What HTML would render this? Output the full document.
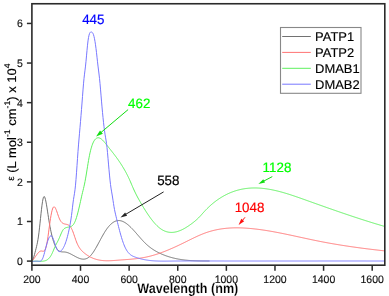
<!DOCTYPE html>
<html><head><meta charset="utf-8"><style>
html,body{margin:0;padding:0;background:#fff;}
body{width:389px;height:296px;overflow:hidden;}
svg{display:block;}
text{font-family:"Liberation Sans",sans-serif;text-rendering:geometricPrecision;}
svg{will-change:transform;}
</style></head><body>
<svg width="389" height="296" viewBox="0 0 389 296">
<rect width="389" height="296" fill="#fff"/>
<defs><clipPath id="cp"><rect x="31.9" y="3.75" width="352.90000000000003" height="261.45"/></clipPath></defs>
<g clip-path="url(#cp)" fill="none" stroke-width="1.0" stroke-linejoin="round">
<path d="M32.00,261.04 L32.50,260.31 L33.00,259.23 L33.50,257.85 L34.00,256.24 L34.50,254.46 L35.00,252.58 L35.50,250.65 L36.00,248.72 L36.50,246.73 L37.00,244.58 L37.50,242.16 L38.00,239.36 L38.50,236.06 L39.00,232.19 L39.50,227.85 L40.00,223.21 L40.50,218.44 L41.00,213.73 L41.50,209.25 L42.00,205.18 L42.50,201.70 L43.00,198.98 L43.50,197.20 L44.00,196.49 L44.50,196.76 L45.00,197.87 L45.50,199.67 L46.00,202.04 L46.50,204.83 L47.00,207.89 L47.50,211.13 L48.00,214.43 L48.50,217.71 L49.00,220.88 L49.50,223.86 L50.00,226.65 L50.50,229.26 L51.00,231.69 L51.50,233.95 L52.00,236.04 L52.50,237.97 L53.00,239.75 L53.50,241.37 L54.00,242.85 L54.50,244.19 L55.00,245.40 L55.50,246.47 L56.00,247.42 L56.50,248.26 L57.00,248.98 L57.50,249.60 L58.00,250.12 L58.50,250.56 L59.00,250.92 L59.50,251.21 L60.00,251.44 L60.50,251.61 L61.00,251.73 L61.50,251.82 L62.00,251.88 L62.50,251.91 L63.00,251.93 L63.50,251.95 L64.00,251.97 L64.50,251.99 L65.00,252.04 L65.50,252.11 L66.00,252.20 L66.50,252.32 L67.00,252.45 L67.50,252.61 L68.00,252.79 L68.50,252.98 L69.00,253.19 L69.50,253.41 L70.00,253.65 L70.50,253.89 L71.00,254.14 L71.50,254.40 L72.00,254.67 L72.50,254.94 L73.00,255.22 L73.50,255.49 L74.00,255.77 L74.50,256.04 L75.00,256.32 L75.50,256.59 L76.00,256.85 L76.50,257.10 L77.00,257.35 L77.50,257.59 L78.00,257.81 L78.50,258.03 L79.00,258.23 L79.50,258.41 L80.00,258.58 L80.50,258.73 L81.00,258.86 L81.50,258.97 L82.00,259.06 L82.50,259.12 L83.00,259.16 L83.50,259.17 L84.00,259.15 L84.50,259.10 L85.00,259.03 L85.50,258.92 L86.00,258.77 L86.50,258.59 L87.00,258.38 L87.50,258.13 L88.00,257.83 L88.50,257.50 L89.00,257.12 L89.50,256.71 L90.00,256.24 L90.50,255.73 L91.00,255.18 L91.50,254.58 L92.00,253.95 L92.50,253.28 L93.00,252.57 L93.50,251.83 L94.00,251.07 L94.50,250.27 L95.00,249.45 L95.50,248.61 L96.00,247.75 L96.50,246.87 L97.00,245.98 L97.50,245.07 L98.00,244.16 L98.50,243.23 L99.00,242.31 L99.50,241.37 L100.00,240.44 L100.50,239.51 L101.00,238.58 L101.50,237.66 L102.00,236.75 L102.50,235.85 L103.00,234.97 L103.50,234.10 L104.00,233.25 L104.50,232.42 L105.00,231.62 L105.50,230.84 L106.00,230.09 L106.50,229.36 L107.00,228.66 L107.50,227.99 L108.00,227.35 L108.50,226.74 L109.00,226.15 L109.50,225.59 L110.00,225.06 L110.50,224.56 L111.00,224.09 L111.50,223.65 L112.00,223.23 L112.50,222.84 L113.00,222.49 L113.50,222.16 L114.00,221.86 L114.50,221.60 L115.00,221.36 L115.50,221.15 L116.00,220.97 L116.50,220.82 L117.00,220.71 L117.50,220.62 L118.00,220.56 L118.50,220.54 L119.00,220.54 L119.50,220.57 L120.00,220.63 L120.50,220.72 L121.00,220.83 L121.50,220.97 L122.00,221.14 L122.50,221.32 L123.00,221.53 L123.50,221.77 L124.00,222.03 L124.50,222.30 L125.00,222.60 L125.50,222.92 L126.00,223.26 L126.50,223.62 L127.00,223.99 L127.50,224.38 L128.00,224.79 L128.50,225.21 L129.00,225.65 L129.50,226.11 L130.00,226.57 L130.50,227.05 L131.00,227.54 L131.50,228.05 L132.00,228.56 L132.50,229.09 L133.00,229.62 L133.50,230.16 L134.00,230.71 L134.50,231.26 L135.00,231.82 L135.50,232.39 L136.00,232.95 L136.50,233.53 L137.00,234.10 L137.50,234.68 L138.00,235.25 L138.50,235.83 L139.00,236.40 L139.50,236.98 L140.00,237.55 L140.50,238.12 L141.00,238.68 L141.50,239.24 L142.00,239.79 L142.50,240.34 L143.00,240.88 L143.50,241.41 L144.00,241.93 L144.50,242.44 L145.00,242.94 L145.50,243.43 L146.00,243.91 L146.50,244.37 L147.00,244.83 L147.50,245.27 L148.00,245.70 L148.50,246.12 L149.00,246.53 L149.50,246.93 L150.00,247.32 L150.50,247.69 L151.00,248.06 L151.50,248.42 L152.00,248.77 L152.50,249.11 L153.00,249.45 L153.50,249.77 L154.00,250.09 L154.50,250.40 L155.00,250.70 L155.50,250.99 L156.00,251.27 L156.50,251.55 L157.00,251.82 L157.50,252.09 L158.00,252.35 L158.50,252.60 L159.00,252.85 L159.50,253.09 L160.00,253.32 L160.50,253.55 L161.00,253.78 L161.50,254.00 L162.00,254.22 L162.50,254.43 L163.00,254.64 L163.50,254.84 L164.00,255.04 L164.50,255.23 L165.00,255.42 L165.50,255.61 L166.00,255.79 L166.50,255.97 L167.00,256.14 L167.50,256.31 L168.00,256.48 L168.50,256.64 L169.00,256.80 L169.50,256.95 L170.00,257.10 L170.50,257.24 L171.00,257.39 L171.50,257.52 L172.00,257.66 L172.50,257.79 L173.00,257.92 L173.50,258.04 L174.00,258.16 L174.50,258.28 L175.00,258.40 L175.50,258.51 L176.00,258.61 L176.50,258.72 L177.00,258.82 L177.50,258.92 L178.00,259.01 L178.50,259.11 L179.00,259.19 L179.50,259.28 L180.00,259.36 L180.50,259.45 L181.00,259.52 L181.50,259.60 L182.00,259.67 L182.50,259.74 L183.00,259.81 L183.50,259.87 L184.00,259.94 L184.50,260.00 L185.00,260.05 L185.50,260.11 L186.00,260.16 L186.50,260.21 L187.00,260.26 L187.50,260.31 L188.00,260.35 L188.50,260.40 L189.00,260.44 L189.50,260.48 L190.00,260.51 L190.50,260.55 L191.00,260.58 L191.50,260.61 L192.00,260.64 L192.50,260.67 L193.00,260.70 L193.50,260.72 L194.00,260.74 L194.50,260.77 L195.00,260.79 L195.50,260.81 L196.00,260.83 L196.50,260.84 L197.00,260.86 L197.50,260.87 L198.00,260.89 L198.50,260.90 L199.00,260.91 L199.50,260.92 L200.00,260.93 L200.50,260.94 L201.00,260.95 L201.50,260.95 L202.00,260.96 L202.50,260.97 L203.00,260.97 L203.50,260.97 L204.00,260.98 L204.50,260.98 L205.00,260.99 L205.50,260.99 L206.00,260.99 L206.50,260.99 L207.00,261.00 L207.50,261.00 L208.00,261.00 L208.50,261.00 L209.00,261.00 L209.50,261.00" stroke="#727272"/>
<path d="M32.00,261.03 L32.50,260.51 L33.00,259.92 L33.50,259.29 L34.00,258.62 L34.50,257.91 L35.00,257.19 L35.50,256.46 L36.00,255.74 L36.50,255.02 L37.00,254.34 L37.50,253.68 L38.00,253.08 L38.50,252.53 L39.00,252.04 L39.50,251.64 L40.00,251.32 L40.50,251.11 L41.00,251.00 L41.50,251.01 L42.00,251.10 L42.50,251.20 L43.00,251.25 L43.50,251.21 L44.00,250.99 L44.50,250.56 L45.00,249.83 L45.50,248.77 L46.00,247.29 L46.50,245.36 L47.00,242.90 L47.50,239.91 L48.00,236.52 L48.50,232.87 L49.00,229.10 L49.50,225.34 L50.00,221.75 L50.50,218.45 L51.00,215.49 L51.50,212.90 L52.00,210.72 L52.50,208.99 L53.00,207.74 L53.50,207.01 L54.00,206.75 L54.50,206.92 L55.00,207.45 L55.50,208.28 L56.00,209.36 L56.50,210.63 L57.00,212.03 L57.50,213.50 L58.00,214.98 L58.50,216.42 L59.00,217.75 L59.50,218.93 L60.00,219.95 L60.50,220.82 L61.00,221.55 L61.50,222.15 L62.00,222.65 L62.50,223.05 L63.00,223.37 L63.50,223.61 L64.00,223.80 L64.50,223.95 L65.00,224.06 L65.50,224.16 L66.00,224.25 L66.50,224.35 L67.00,224.47 L67.50,224.62 L68.00,224.83 L68.50,225.09 L69.00,225.42 L69.50,225.83 L70.00,226.34 L70.50,226.95 L71.00,227.68 L71.50,228.54 L72.00,229.54 L72.50,230.68 L73.00,231.95 L73.50,233.33 L74.00,234.77 L74.50,236.25 L75.00,237.73 L75.50,239.20 L76.00,240.61 L76.50,241.93 L77.00,243.16 L77.50,244.28 L78.00,245.31 L78.50,246.25 L79.00,247.11 L79.50,247.90 L80.00,248.62 L80.50,249.28 L81.00,249.89 L81.50,250.45 L82.00,250.97 L82.50,251.45 L83.00,251.91 L83.50,252.35 L84.00,252.77 L84.50,253.18 L85.00,253.58 L85.50,253.96 L86.00,254.33 L86.50,254.69 L87.00,255.03 L87.50,255.36 L88.00,255.68 L88.50,255.99 L89.00,256.28 L89.50,256.57 L90.00,256.84 L90.50,257.10 L91.00,257.35 L91.50,257.59 L92.00,257.82 L92.50,258.04 L93.00,258.24 L93.50,258.44 L94.00,258.63 L94.50,258.81 L95.00,258.98 L95.50,259.14 L96.00,259.29 L96.50,259.43 L97.00,259.56 L97.50,259.69 L98.00,259.81 L98.50,259.91 L99.00,260.02 L99.50,260.11 L100.00,260.20 L100.50,260.28 L101.00,260.35 L101.50,260.41 L102.00,260.47 L102.50,260.53 L103.00,260.57 L103.50,260.62 L104.00,260.65 L104.50,260.68 L105.00,260.71 L105.50,260.73 L106.00,260.74 L106.50,260.75 L107.00,260.76 L107.50,260.76 L108.00,260.76 L108.50,260.75 L109.00,260.74 L109.50,260.73 L110.00,260.71 L110.50,260.69 L111.00,260.67 L111.50,260.65 L112.00,260.62 L112.50,260.59 L113.00,260.56 L113.50,260.53 L114.00,260.49 L114.50,260.46 L115.00,260.42 L115.50,260.38 L116.00,260.34 L116.50,260.30 L117.00,260.26 L117.50,260.22 L118.00,260.19 L118.50,260.15 L119.00,260.11 L119.50,260.07 L120.00,260.03 L120.50,260.00 L121.00,259.96 L121.50,259.92 L122.00,259.89 L122.50,259.85 L123.00,259.82 L123.50,259.78 L124.00,259.74 L124.50,259.71 L125.00,259.67 L125.50,259.64 L126.00,259.60 L126.50,259.56 L127.00,259.53 L127.50,259.49 L128.00,259.45 L128.50,259.41 L129.00,259.37 L129.50,259.33 L130.00,259.29 L130.50,259.25 L131.00,259.20 L131.50,259.16 L132.00,259.11 L132.50,259.07 L133.00,259.02 L133.50,258.97 L134.00,258.92 L134.50,258.87 L135.00,258.81 L135.50,258.76 L136.00,258.70 L136.50,258.64 L137.00,258.58 L137.50,258.52 L138.00,258.45 L138.50,258.39 L139.00,258.32 L139.50,258.25 L140.00,258.18 L140.50,258.10 L141.00,258.03 L141.50,257.95 L142.00,257.86 L142.50,257.78 L143.00,257.69 L143.50,257.60 L144.00,257.51 L144.50,257.42 L145.00,257.32 L145.50,257.22 L146.00,257.11 L146.50,257.01 L147.00,256.90 L147.50,256.78 L148.00,256.67 L148.50,256.55 L149.00,256.43 L149.50,256.30 L150.00,256.18 L150.50,256.05 L151.00,255.92 L151.50,255.78 L152.00,255.64 L152.50,255.50 L153.00,255.36 L153.50,255.22 L154.00,255.07 L154.50,254.92 L155.00,254.77 L155.50,254.61 L156.00,254.45 L156.50,254.29 L157.00,254.13 L157.50,253.97 L158.00,253.80 L158.50,253.63 L159.00,253.46 L159.50,253.29 L160.00,253.11 L160.50,252.93 L161.00,252.75 L161.50,252.57 L162.00,252.39 L162.50,252.20 L163.00,252.01 L163.50,251.83 L164.00,251.63 L164.50,251.44 L165.00,251.24 L165.50,251.05 L166.00,250.85 L166.50,250.65 L167.00,250.44 L167.50,250.24 L168.00,250.03 L168.50,249.83 L169.00,249.62 L169.50,249.40 L170.00,249.19 L170.50,248.98 L171.00,248.76 L171.50,248.54 L172.00,248.33 L172.50,248.11 L173.00,247.88 L173.50,247.66 L174.00,247.44 L174.50,247.21 L175.00,246.98 L175.50,246.76 L176.00,246.53 L176.50,246.30 L177.00,246.06 L177.50,245.83 L178.00,245.60 L178.50,245.36 L179.00,245.13 L179.50,244.89 L180.00,244.65 L180.50,244.41 L181.00,244.17 L181.50,243.93 L182.00,243.69 L182.50,243.44 L183.00,243.20 L183.50,242.96 L184.00,242.71 L184.50,242.46 L185.00,242.22 L185.50,241.97 L186.00,241.72 L186.50,241.47 L187.00,241.23 L187.50,240.98 L188.00,240.73 L188.50,240.48 L189.00,240.23 L189.50,239.99 L190.00,239.74 L190.50,239.49 L191.00,239.24 L191.50,239.00 L192.00,238.76 L192.50,238.51 L193.00,238.27 L193.50,238.03 L194.00,237.79 L194.50,237.55 L195.00,237.31 L195.50,237.08 L196.00,236.84 L196.50,236.61 L197.00,236.38 L197.50,236.15 L198.00,235.93 L198.50,235.70 L199.00,235.48 L199.50,235.26 L200.00,235.05 L200.50,234.83 L201.00,234.62 L201.50,234.41 L202.00,234.21 L202.50,234.01 L203.00,233.81 L203.50,233.61 L204.00,233.42 L204.50,233.23 L205.00,233.05 L205.50,232.86 L206.00,232.69 L206.50,232.51 L207.00,232.34 L207.50,232.18 L208.00,232.01 L208.50,231.85 L209.00,231.70 L209.50,231.55 L210.00,231.40 L210.50,231.25 L211.00,231.11 L211.50,230.97 L212.00,230.84 L212.50,230.71 L213.00,230.58 L213.50,230.45 L214.00,230.33 L214.50,230.21 L215.00,230.10 L215.50,229.99 L216.00,229.88 L216.50,229.77 L217.00,229.67 L217.50,229.57 L218.00,229.47 L218.50,229.38 L219.00,229.29 L219.50,229.20 L220.00,229.12 L220.50,229.04 L221.00,228.96 L221.50,228.88 L222.00,228.81 L222.50,228.74 L223.00,228.67 L223.50,228.61 L224.00,228.55 L224.50,228.49 L225.00,228.43 L225.50,228.38 L226.00,228.33 L226.50,228.28 L227.00,228.23 L227.50,228.19 L228.00,228.15 L228.50,228.11 L229.00,228.08 L229.50,228.04 L230.00,228.01 L230.50,227.99 L231.00,227.96 L231.50,227.94 L232.00,227.91 L232.50,227.90 L233.00,227.88 L233.50,227.86 L234.00,227.85 L234.50,227.84 L235.00,227.83 L235.50,227.83 L236.00,227.82 L236.50,227.82 L237.00,227.82 L237.50,227.82 L238.00,227.83 L238.50,227.84 L239.00,227.84 L239.50,227.85 L240.00,227.87 L240.50,227.88 L241.00,227.89 L241.50,227.91 L242.00,227.93 L242.50,227.95 L243.00,227.98 L243.50,228.00 L244.00,228.03 L244.50,228.05 L245.00,228.08 L245.50,228.11 L246.00,228.15 L246.50,228.18 L247.00,228.21 L247.50,228.25 L248.00,228.29 L248.50,228.33 L249.00,228.37 L249.50,228.41 L250.00,228.46 L250.50,228.50 L251.00,228.55 L251.50,228.59 L252.00,228.64 L252.50,228.69 L253.00,228.74 L253.50,228.80 L254.00,228.85 L254.50,228.91 L255.00,228.96 L255.50,229.02 L256.00,229.08 L256.50,229.14 L257.00,229.20 L257.50,229.26 L258.00,229.32 L258.50,229.39 L259.00,229.45 L259.50,229.52 L260.00,229.58 L260.50,229.65 L261.00,229.72 L261.50,229.79 L262.00,229.86 L262.50,229.93 L263.00,230.01 L263.50,230.08 L264.00,230.16 L264.50,230.23 L265.00,230.31 L265.50,230.39 L266.00,230.47 L266.50,230.55 L267.00,230.63 L267.50,230.71 L268.00,230.79 L268.50,230.87 L269.00,230.96 L269.50,231.04 L270.00,231.13 L270.50,231.21 L271.00,231.30 L271.50,231.39 L272.00,231.47 L272.50,231.56 L273.00,231.65 L273.50,231.74 L274.00,231.83 L274.50,231.93 L275.00,232.02 L275.50,232.11 L276.00,232.21 L276.50,232.30 L277.00,232.39 L277.50,232.49 L278.00,232.59 L278.50,232.68 L279.00,232.78 L279.50,232.88 L280.00,232.98 L280.50,233.08 L281.00,233.17 L281.50,233.27 L282.00,233.37 L282.50,233.48 L283.00,233.58 L283.50,233.68 L284.00,233.78 L284.50,233.88 L285.00,233.99 L285.50,234.09 L286.00,234.19 L286.50,234.30 L287.00,234.40 L287.50,234.51 L288.00,234.61 L288.50,234.72 L289.00,234.82 L289.50,234.93 L290.00,235.03 L290.50,235.14 L291.00,235.25 L291.50,235.35 L292.00,235.46 L292.50,235.57 L293.00,235.67 L293.50,235.78 L294.00,235.89 L294.50,236.00 L295.00,236.11 L295.50,236.21 L296.00,236.32 L296.50,236.43 L297.00,236.54 L297.50,236.65 L298.00,236.76 L298.50,236.87 L299.00,236.97 L299.50,237.08 L300.00,237.19 L300.50,237.30 L301.00,237.41 L301.50,237.52 L302.00,237.63 L302.50,237.73 L303.00,237.84 L303.50,237.95 L304.00,238.06 L304.50,238.17 L305.00,238.28 L305.50,238.38 L306.00,238.49 L306.50,238.60 L307.00,238.71 L307.50,238.81 L308.00,238.92 L308.50,239.03 L309.00,239.14 L309.50,239.24 L310.00,239.35 L310.50,239.45 L311.00,239.56 L311.50,239.67 L312.00,239.77 L312.50,239.87 L313.00,239.98 L313.50,240.08 L314.00,240.19 L314.50,240.29 L315.00,240.39 L315.50,240.50 L316.00,240.60 L316.50,240.70 L317.00,240.80 L317.50,240.90 L318.00,241.00 L318.50,241.10 L319.00,241.20 L319.50,241.30 L320.00,241.40 L320.50,241.50 L321.00,241.60 L321.50,241.69 L322.00,241.79 L322.50,241.88 L323.00,241.98 L323.50,242.08 L324.00,242.17 L324.50,242.26 L325.00,242.36 L325.50,242.45 L326.00,242.54 L326.50,242.64 L327.00,242.73 L327.50,242.82 L328.00,242.91 L328.50,243.00 L329.00,243.09 L329.50,243.18 L330.00,243.27 L330.50,243.36 L331.00,243.45 L331.50,243.54 L332.00,243.62 L332.50,243.71 L333.00,243.80 L333.50,243.88 L334.00,243.97 L334.50,244.06 L335.00,244.14 L335.50,244.23 L336.00,244.31 L336.50,244.39 L337.00,244.48 L337.50,244.56 L338.00,244.64 L338.50,244.72 L339.00,244.81 L339.50,244.89 L340.00,244.97 L340.50,245.05 L341.00,245.13 L341.50,245.21 L342.00,245.29 L342.50,245.37 L343.00,245.45 L343.50,245.52 L344.00,245.60 L344.50,245.68 L345.00,245.76 L345.50,245.83 L346.00,245.91 L346.50,245.99 L347.00,246.06 L347.50,246.14 L348.00,246.21 L348.50,246.29 L349.00,246.36 L349.50,246.43 L350.00,246.51 L350.50,246.58 L351.00,246.65 L351.50,246.73 L352.00,246.80 L352.50,246.87 L353.00,246.94 L353.50,247.01 L354.00,247.08 L354.50,247.15 L355.00,247.22 L355.50,247.29 L356.00,247.36 L356.50,247.43 L357.00,247.50 L357.50,247.57 L358.00,247.64 L358.50,247.71 L359.00,247.77 L359.50,247.84 L360.00,247.91 L360.50,247.97 L361.00,248.04 L361.50,248.11 L362.00,248.17 L362.50,248.24 L363.00,248.30 L363.50,248.37 L364.00,248.43 L364.50,248.49 L365.00,248.56 L365.50,248.62 L366.00,248.69 L366.50,248.75 L367.00,248.81 L367.50,248.87 L368.00,248.94 L368.50,249.00 L369.00,249.06 L369.50,249.12 L370.00,249.18 L370.50,249.24 L371.00,249.30 L371.50,249.36 L372.00,249.42 L372.50,249.48 L373.00,249.54 L373.50,249.60 L374.00,249.66 L374.50,249.72 L375.00,249.78 L375.50,249.84 L376.00,249.90 L376.50,249.95 L377.00,250.01 L377.50,250.07 L378.00,250.13 L378.50,250.18 L379.00,250.24 L379.50,250.30 L380.00,250.35 L380.50,250.41 L381.00,250.46 L381.50,250.52 L382.00,250.57 L382.50,250.63 L383.00,250.68 L383.50,250.74 L384.00,250.79 L384.50,250.85" stroke="#ff7474"/>
<path d="M32.00,261.29 L32.50,261.25 L33.00,261.22 L33.50,261.20 L34.00,261.19 L34.50,261.19 L35.00,261.19 L35.50,261.20 L36.00,261.21 L36.50,261.23 L37.00,261.24 L37.50,261.26 L38.00,261.28 L38.50,261.29 L39.00,261.30 L39.50,261.30 L40.00,261.30 L40.50,261.30 L41.00,261.30 L41.50,261.29 L42.00,261.26 L42.50,261.22 L43.00,261.17 L43.50,261.11 L44.00,261.03 L44.50,260.93 L45.00,260.80 L45.50,260.65 L46.00,260.46 L46.50,260.22 L47.00,259.95 L47.50,259.62 L48.00,259.24 L48.50,258.80 L49.00,258.29 L49.50,257.72 L50.00,257.07 L50.50,256.34 L51.00,255.53 L51.50,254.63 L52.00,253.64 L52.50,252.56 L53.00,251.40 L53.50,250.21 L54.00,249.01 L54.50,247.82 L55.00,246.68 L55.50,245.61 L56.00,244.61 L56.50,243.65 L57.00,242.71 L57.50,241.77 L58.00,240.79 L58.50,239.76 L59.00,238.65 L59.50,237.49 L60.00,236.30 L60.50,235.10 L61.00,233.92 L61.50,232.79 L62.00,231.73 L62.50,230.78 L63.00,229.95 L63.50,229.27 L64.00,228.77 L64.50,228.42 L65.00,228.12 L65.50,227.88 L66.00,227.69 L66.50,227.53 L67.00,227.39 L67.50,227.29 L68.00,227.19 L68.50,227.11 L69.00,227.03 L69.50,226.94 L70.00,226.84 L70.50,226.70 L71.00,226.51 L71.50,226.26 L72.00,225.93 L72.50,225.52 L73.00,225.00 L73.50,224.37 L74.00,223.60 L74.50,222.68 L75.00,221.61 L75.50,220.38 L76.00,218.99 L76.50,217.46 L77.00,215.80 L77.50,214.01 L78.00,212.12 L78.50,210.13 L79.00,208.06 L79.50,205.91 L80.00,203.69 L80.50,201.42 L81.00,199.13 L81.50,196.86 L82.00,194.67 L82.50,192.58 L83.00,190.55 L83.50,188.50 L84.00,186.36 L84.50,184.07 L85.00,181.58 L85.50,178.90 L86.00,176.04 L86.50,173.02 L87.00,169.89 L87.50,166.74 L88.00,163.63 L88.50,160.64 L89.00,157.84 L89.50,155.27 L90.00,152.92 L90.50,150.79 L91.00,148.85 L91.50,147.11 L92.00,145.56 L92.50,144.17 L93.00,142.95 L93.50,141.89 L94.00,140.97 L94.50,140.19 L95.00,139.54 L95.50,139.00 L96.00,138.57 L96.50,138.24 L97.00,137.99 L97.50,137.84 L98.00,137.77 L98.50,137.77 L99.00,137.85 L99.50,138.00 L100.00,138.21 L100.50,138.48 L101.00,138.80 L101.50,139.18 L102.00,139.60 L102.50,140.06 L103.00,140.56 L103.50,141.10 L104.00,141.66 L104.50,142.24 L105.00,142.84 L105.50,143.46 L106.00,144.08 L106.50,144.71 L107.00,145.34 L107.50,145.97 L108.00,146.60 L108.50,147.23 L109.00,147.85 L109.50,148.48 L110.00,149.11 L110.50,149.74 L111.00,150.37 L111.50,151.00 L112.00,151.63 L112.50,152.27 L113.00,152.91 L113.50,153.56 L114.00,154.21 L114.50,154.86 L115.00,155.52 L115.50,156.19 L116.00,156.86 L116.50,157.54 L117.00,158.23 L117.50,158.93 L118.00,159.63 L118.50,160.35 L119.00,161.07 L119.50,161.81 L120.00,162.55 L120.50,163.31 L121.00,164.08 L121.50,164.86 L122.00,165.65 L122.50,166.46 L123.00,167.28 L123.50,168.11 L124.00,168.96 L124.50,169.83 L125.00,170.71 L125.50,171.61 L126.00,172.53 L126.50,173.47 L127.00,174.44 L127.50,175.42 L128.00,176.43 L128.50,177.47 L129.00,178.53 L129.50,179.62 L130.00,180.74 L130.50,181.88 L131.00,183.05 L131.50,184.24 L132.00,185.42 L132.50,186.60 L133.00,187.76 L133.50,188.89 L134.00,189.99 L134.50,191.07 L135.00,192.12 L135.50,193.15 L136.00,194.16 L136.50,195.14 L137.00,196.10 L137.50,197.05 L138.00,197.98 L138.50,198.89 L139.00,199.79 L139.50,200.68 L140.00,201.56 L140.50,202.42 L141.00,203.28 L141.50,204.13 L142.00,204.98 L142.50,205.82 L143.00,206.65 L143.50,207.47 L144.00,208.29 L144.50,209.10 L145.00,209.90 L145.50,210.69 L146.00,211.47 L146.50,212.25 L147.00,213.01 L147.50,213.76 L148.00,214.50 L148.50,215.24 L149.00,215.96 L149.50,216.67 L150.00,217.36 L150.50,218.05 L151.00,218.72 L151.50,219.38 L152.00,220.03 L152.50,220.66 L153.00,221.28 L153.50,221.89 L154.00,222.48 L154.50,223.05 L155.00,223.61 L155.50,224.16 L156.00,224.68 L156.50,225.20 L157.00,225.69 L157.50,226.17 L158.00,226.63 L158.50,227.08 L159.00,227.50 L159.50,227.91 L160.00,228.30 L160.50,228.67 L161.00,229.02 L161.50,229.35 L162.00,229.66 L162.50,229.96 L163.00,230.23 L163.50,230.49 L164.00,230.73 L164.50,230.96 L165.00,231.16 L165.50,231.35 L166.00,231.53 L166.50,231.69 L167.00,231.83 L167.50,231.95 L168.00,232.06 L168.50,232.16 L169.00,232.23 L169.50,232.30 L170.00,232.35 L170.50,232.38 L171.00,232.40 L171.50,232.41 L172.00,232.40 L172.50,232.38 L173.00,232.34 L173.50,232.30 L174.00,232.24 L174.50,232.16 L175.00,232.08 L175.50,231.98 L176.00,231.87 L176.50,231.75 L177.00,231.61 L177.50,231.47 L178.00,231.31 L178.50,231.15 L179.00,230.97 L179.50,230.78 L180.00,230.59 L180.50,230.38 L181.00,230.16 L181.50,229.94 L182.00,229.70 L182.50,229.46 L183.00,229.20 L183.50,228.94 L184.00,228.67 L184.50,228.40 L185.00,228.11 L185.50,227.82 L186.00,227.52 L186.50,227.21 L187.00,226.90 L187.50,226.58 L188.00,226.25 L188.50,225.92 L189.00,225.58 L189.50,225.23 L190.00,224.88 L190.50,224.53 L191.00,224.17 L191.50,223.80 L192.00,223.43 L192.50,223.05 L193.00,222.67 L193.50,222.28 L194.00,221.88 L194.50,221.47 L195.00,221.06 L195.50,220.63 L196.00,220.20 L196.50,219.76 L197.00,219.30 L197.50,218.84 L198.00,218.36 L198.50,217.88 L199.00,217.38 L199.50,216.86 L200.00,216.34 L200.50,215.80 L201.00,215.25 L201.50,214.69 L202.00,214.13 L202.50,213.56 L203.00,213.00 L203.50,212.44 L204.00,211.88 L204.50,211.34 L205.00,210.80 L205.50,210.27 L206.00,209.75 L206.50,209.24 L207.00,208.73 L207.50,208.24 L208.00,207.75 L208.50,207.27 L209.00,206.79 L209.50,206.33 L210.00,205.87 L210.50,205.42 L211.00,204.97 L211.50,204.54 L212.00,204.11 L212.50,203.69 L213.00,203.27 L213.50,202.86 L214.00,202.46 L214.50,202.07 L215.00,201.68 L215.50,201.30 L216.00,200.93 L216.50,200.56 L217.00,200.20 L217.50,199.84 L218.00,199.49 L218.50,199.15 L219.00,198.81 L219.50,198.48 L220.00,198.16 L220.50,197.84 L221.00,197.53 L221.50,197.22 L222.00,196.92 L222.50,196.63 L223.00,196.34 L223.50,196.05 L224.00,195.77 L224.50,195.50 L225.00,195.23 L225.50,194.97 L226.00,194.72 L226.50,194.46 L227.00,194.22 L227.50,193.98 L228.00,193.74 L228.50,193.51 L229.00,193.29 L229.50,193.07 L230.00,192.85 L230.50,192.64 L231.00,192.44 L231.50,192.24 L232.00,192.05 L232.50,191.86 L233.00,191.67 L233.50,191.49 L234.00,191.32 L234.50,191.15 L235.00,190.98 L235.50,190.82 L236.00,190.67 L236.50,190.52 L237.00,190.37 L237.50,190.23 L238.00,190.09 L238.50,189.96 L239.00,189.84 L239.50,189.71 L240.00,189.59 L240.50,189.48 L241.00,189.37 L241.50,189.26 L242.00,189.16 L242.50,189.07 L243.00,188.97 L243.50,188.89 L244.00,188.80 L244.50,188.72 L245.00,188.65 L245.50,188.58 L246.00,188.51 L246.50,188.45 L247.00,188.39 L247.50,188.33 L248.00,188.28 L248.50,188.23 L249.00,188.19 L249.50,188.15 L250.00,188.11 L250.50,188.08 L251.00,188.05 L251.50,188.03 L252.00,188.01 L252.50,187.99 L253.00,187.98 L253.50,187.97 L254.00,187.96 L254.50,187.96 L255.00,187.96 L255.50,187.96 L256.00,187.97 L256.50,187.98 L257.00,187.99 L257.50,188.01 L258.00,188.03 L258.50,188.05 L259.00,188.08 L259.50,188.11 L260.00,188.14 L260.50,188.18 L261.00,188.22 L261.50,188.26 L262.00,188.31 L262.50,188.36 L263.00,188.41 L263.50,188.46 L264.00,188.52 L264.50,188.58 L265.00,188.64 L265.50,188.71 L266.00,188.78 L266.50,188.85 L267.00,188.92 L267.50,189.00 L268.00,189.08 L268.50,189.16 L269.00,189.24 L269.50,189.33 L270.00,189.42 L270.50,189.51 L271.00,189.60 L271.50,189.70 L272.00,189.80 L272.50,189.90 L273.00,190.00 L273.50,190.11 L274.00,190.22 L274.50,190.33 L275.00,190.44 L275.50,190.55 L276.00,190.67 L276.50,190.79 L277.00,190.91 L277.50,191.03 L278.00,191.15 L278.50,191.28 L279.00,191.41 L279.50,191.54 L280.00,191.67 L280.50,191.80 L281.00,191.93 L281.50,192.07 L282.00,192.21 L282.50,192.35 L283.00,192.49 L283.50,192.63 L284.00,192.78 L284.50,192.93 L285.00,193.07 L285.50,193.22 L286.00,193.37 L286.50,193.52 L287.00,193.68 L287.50,193.83 L288.00,193.99 L288.50,194.14 L289.00,194.30 L289.50,194.46 L290.00,194.62 L290.50,194.78 L291.00,194.95 L291.50,195.11 L292.00,195.27 L292.50,195.44 L293.00,195.61 L293.50,195.77 L294.00,195.94 L294.50,196.11 L295.00,196.28 L295.50,196.45 L296.00,196.62 L296.50,196.80 L297.00,196.97 L297.50,197.14 L298.00,197.32 L298.50,197.49 L299.00,197.67 L299.50,197.84 L300.00,198.02 L300.50,198.19 L301.00,198.37 L301.50,198.55 L302.00,198.72 L302.50,198.90 L303.00,199.08 L303.50,199.26 L304.00,199.44 L304.50,199.62 L305.00,199.79 L305.50,199.97 L306.00,200.15 L306.50,200.33 L307.00,200.51 L307.50,200.69 L308.00,200.87 L308.50,201.05 L309.00,201.23 L309.50,201.40 L310.00,201.58 L310.50,201.76 L311.00,201.94 L311.50,202.12 L312.00,202.30 L312.50,202.48 L313.00,202.65 L313.50,202.83 L314.00,203.01 L314.50,203.19 L315.00,203.37 L315.50,203.55 L316.00,203.72 L316.50,203.90 L317.00,204.08 L317.50,204.26 L318.00,204.44 L318.50,204.61 L319.00,204.79 L319.50,204.97 L320.00,205.15 L320.50,205.32 L321.00,205.50 L321.50,205.68 L322.00,205.86 L322.50,206.03 L323.00,206.21 L323.50,206.39 L324.00,206.56 L324.50,206.74 L325.00,206.92 L325.50,207.09 L326.00,207.27 L326.50,207.45 L327.00,207.62 L327.50,207.80 L328.00,207.97 L328.50,208.15 L329.00,208.32 L329.50,208.50 L330.00,208.67 L330.50,208.85 L331.00,209.02 L331.50,209.20 L332.00,209.37 L332.50,209.55 L333.00,209.72 L333.50,209.90 L334.00,210.07 L334.50,210.24 L335.00,210.42 L335.50,210.59 L336.00,210.77 L336.50,210.94 L337.00,211.11 L337.50,211.28 L338.00,211.46 L338.50,211.63 L339.00,211.80 L339.50,211.97 L340.00,212.15 L340.50,212.32 L341.00,212.49 L341.50,212.66 L342.00,212.83 L342.50,213.00 L343.00,213.17 L343.50,213.34 L344.00,213.51 L344.50,213.68 L345.00,213.85 L345.50,214.02 L346.00,214.19 L346.50,214.36 L347.00,214.53 L347.50,214.70 L348.00,214.87 L348.50,215.04 L349.00,215.21 L349.50,215.37 L350.00,215.54 L350.50,215.71 L351.00,215.88 L351.50,216.04 L352.00,216.21 L352.50,216.38 L353.00,216.54 L353.50,216.71 L354.00,216.87 L354.50,217.04 L355.00,217.20 L355.50,217.37 L356.00,217.53 L356.50,217.70 L357.00,217.86 L357.50,218.03 L358.00,218.19 L358.50,218.35 L359.00,218.52 L359.50,218.68 L360.00,218.84 L360.50,219.00 L361.00,219.16 L361.50,219.33 L362.00,219.49 L362.50,219.65 L363.00,219.81 L363.50,219.97 L364.00,220.13 L364.50,220.29 L365.00,220.45 L365.50,220.61 L366.00,220.77 L366.50,220.92 L367.00,221.08 L367.50,221.24 L368.00,221.40 L368.50,221.55 L369.00,221.71 L369.50,221.87 L370.00,222.02 L370.50,222.18 L371.00,222.33 L371.50,222.49 L372.00,222.64 L372.50,222.80 L373.00,222.95 L373.50,223.11 L374.00,223.26 L374.50,223.41 L375.00,223.56 L375.50,223.72 L376.00,223.87 L376.50,224.02 L377.00,224.17 L377.50,224.32 L378.00,224.47 L378.50,224.62 L379.00,224.77 L379.50,224.92 L380.00,225.07 L380.50,225.22 L381.00,225.37 L381.50,225.51 L382.00,225.66 L382.50,225.81 L383.00,225.95 L383.50,226.10 L384.00,226.24 L384.50,226.39" stroke="#5ef05e"/>
<path d="M32.00,261.23 L32.50,261.29 L33.00,261.30 L33.50,261.30 L34.00,261.30 L34.50,261.29 L35.00,261.25 L35.50,261.21 L36.00,261.18 L36.50,261.16 L37.00,261.15 L37.50,261.16 L38.00,261.20 L38.50,261.26 L39.00,261.30 L39.50,261.30 L40.00,261.30 L40.50,261.15 L41.00,260.86 L41.50,260.40 L42.00,259.73 L42.50,258.82 L43.00,257.64 L43.50,256.18 L44.00,254.52 L44.50,252.69 L45.00,250.77 L45.50,248.82 L46.00,246.88 L46.50,245.03 L47.00,243.28 L47.50,241.68 L48.00,240.22 L48.50,238.94 L49.00,237.86 L49.50,236.98 L50.00,236.33 L50.50,235.93 L51.00,235.80 L51.50,235.96 L52.00,236.43 L52.50,237.21 L53.00,238.26 L53.50,239.51 L54.00,240.92 L54.50,242.43 L55.00,243.97 L55.50,245.49 L56.00,246.92 L56.50,248.22 L57.00,249.33 L57.50,250.20 L58.00,250.84 L58.50,251.28 L59.00,251.53 L59.50,251.60 L60.00,251.51 L60.50,251.27 L61.00,250.90 L61.50,250.42 L62.00,249.84 L62.50,249.17 L63.00,248.39 L63.50,247.52 L64.00,246.53 L64.50,245.44 L65.00,244.23 L65.50,242.90 L66.00,241.45 L66.50,239.87 L67.00,238.16 L67.50,236.32 L68.00,234.33 L68.50,232.21 L69.00,229.93 L69.50,227.51 L70.00,224.92 L70.50,222.10 L71.00,218.98 L71.50,215.47 L72.00,211.49 L72.50,207.20 L73.00,203.02 L73.50,199.37 L74.00,196.29 L74.50,193.26 L75.00,189.73 L75.50,185.16 L76.00,179.39 L76.50,172.76 L77.00,165.63 L77.50,158.38 L78.00,151.38 L78.50,144.93 L79.00,138.97 L79.50,133.24 L80.00,127.49 L80.50,121.63 L81.00,115.63 L81.50,109.45 L82.00,103.06 L82.50,96.47 L83.00,89.93 L83.50,83.82 L84.00,78.53 L84.50,74.15 L85.00,70.19 L85.50,66.08 L86.00,61.29 L86.50,55.87 L87.00,50.35 L87.50,45.22 L88.00,40.91 L88.50,37.63 L89.00,35.24 L89.50,33.61 L90.00,32.62 L90.50,32.11 L91.00,31.96 L91.50,32.03 L92.00,32.25 L92.50,32.71 L93.00,33.50 L93.50,34.73 L94.00,36.48 L94.50,38.75 L95.00,41.53 L95.50,44.78 L96.00,48.50 L96.50,52.66 L97.00,57.19 L97.50,61.78 L98.00,66.07 L98.50,70.03 L99.00,74.00 L99.50,78.37 L100.00,83.44 L100.50,89.13 L101.00,95.11 L101.50,101.10 L102.00,106.87 L102.50,112.35 L103.00,117.51 L103.50,122.31 L104.00,126.71 L104.50,130.67 L105.00,134.15 L105.50,137.16 L106.00,140.06 L106.50,143.34 L107.00,147.51 L107.50,152.65 L108.00,158.32 L108.50,164.08 L109.00,169.70 L109.50,175.09 L110.00,180.08 L110.50,184.44 L111.00,188.05 L111.50,191.12 L112.00,194.00 L112.50,197.01 L113.00,200.25 L113.50,203.55 L114.00,206.72 L114.50,209.55 L115.00,211.98 L115.50,214.15 L116.00,216.26 L116.50,218.35 L117.00,220.43 L117.50,222.48 L118.00,224.51 L118.50,226.50 L119.00,228.46 L119.50,230.37 L120.00,232.23 L120.50,234.04 L121.00,235.80 L121.50,237.49 L122.00,239.11 L122.50,240.67 L123.00,242.14 L123.50,243.53 L124.00,244.84 L124.50,246.05 L125.00,247.18 L125.50,248.22 L126.00,249.17 L126.50,250.04 L127.00,250.85 L127.50,251.58 L128.00,252.24 L128.50,252.85 L129.00,253.39 L129.50,253.89 L130.00,254.33 L130.50,254.73 L131.00,255.09 L131.50,255.42 L132.00,255.71 L132.50,255.97 L133.00,256.21 L133.50,256.44 L134.00,256.64 L134.50,256.84 L135.00,257.03 L135.50,257.21 L136.00,257.39 L136.50,257.56 L137.00,257.73 L137.50,257.89 L138.00,258.05 L138.50,258.20 L139.00,258.35 L139.50,258.49 L140.00,258.63 L140.50,258.76 L141.00,258.89 L141.50,259.02 L142.00,259.14 L142.50,259.25 L143.00,259.36 L143.50,259.47 L144.00,259.57 L144.50,259.67 L145.00,259.76 L145.50,259.85 L146.00,259.94 L146.50,260.02 L147.00,260.10 L147.50,260.17 L148.00,260.25 L148.50,260.31 L149.00,260.38 L149.50,260.44 L150.00,260.50 L150.50,260.55 L151.00,260.60 L151.50,260.65 L152.00,260.70 L152.50,260.74 L153.00,260.78 L153.50,260.82 L154.00,260.86 L154.50,260.89 L155.00,260.92 L155.50,260.95 L156.00,260.97 L156.50,260.99 L157.00,261.02 L157.50,261.03 L158.00,261.05 L158.50,261.07 L159.00,261.08 L159.50,261.09 L160.00,261.10 L160.50,261.11 L161.00,261.12 L161.50,261.12 L162.00,261.13 L162.50,261.13 L163.00,261.13 L163.50,261.13 L164.00,261.13 L164.50,261.13 L165.00,261.13 L165.50,261.13 L166.00,261.13 L166.50,261.12 L167.00,261.12 L167.50,261.11 L168.00,261.11 L168.50,261.10 L169.00,261.10 L169.50,261.09 L170.00,261.08 L170.50,261.08 L171.00,261.07 L171.50,261.07 L172.00,261.06 L172.50,261.05 L173.00,261.05 L173.50,261.04 L174.00,261.04 L174.50,261.03 L175.00,261.03 L175.50,261.03 L176.00,261.02 L176.50,261.02 L177.00,261.01 L177.50,261.01 L178.00,261.01 L178.50,261.00 L179.00,261.00 L179.50,261.00 L180.00,260.99 L180.50,260.99 L181.00,260.99 L181.50,260.98 L182.00,260.98 L182.50,260.98 L183.00,260.98 L183.50,260.98 L184.00,260.97 L184.50,260.97 L185.00,260.97 L185.50,260.97 L186.00,260.97 L186.50,260.96 L187.00,260.96 L187.50,260.96 L188.00,260.96 L188.50,260.96 L189.00,260.96 L189.50,260.96 L190.00,260.96 L190.50,260.96 L191.00,260.96 L191.50,260.96 L192.00,260.96 L192.50,260.96 L193.00,260.95 L193.50,260.95 L194.00,260.95 L194.50,260.95 L195.00,260.95 L195.50,260.95 L196.00,260.95 L196.50,260.95 L197.00,260.96 L197.50,260.96 L198.00,260.96 L198.50,260.96 L199.00,260.96 L199.50,260.96 L200.00,260.96 L200.50,260.96 L201.00,260.96 L201.50,260.96 L202.00,260.96 L202.50,260.96 L203.00,260.96 L203.50,260.96 L204.00,260.96 L204.50,260.96 L205.00,260.97 L205.50,260.97 L206.00,260.97 L206.50,260.97 L207.00,260.97 L207.50,260.97 L208.00,260.97 L208.50,260.97 L209.00,260.97 L209.50,260.97 L210.00,260.97 L210.50,260.98 L211.00,260.98 L211.50,260.98 L212.00,260.98 L212.50,260.98 L213.00,260.98 L213.50,260.98 L214.00,260.98 L214.50,260.98 L215.00,260.98 L215.50,260.98 L216.00,260.98 L216.50,260.99 L217.00,260.99 L217.50,260.99 L218.00,260.99 L218.50,260.99 L219.00,260.99 L219.50,260.99 L220.00,260.99 L220.50,260.99 L221.00,260.99 L221.50,260.99 L222.00,260.99 L222.50,260.99 L223.00,260.99 L223.50,260.99 L224.00,261.00 L224.50,261.00 L225.00,261.00 L225.50,261.00 L226.00,261.00 L226.50,261.00 L227.00,261.00 L227.50,261.00 L228.00,261.00 L228.50,261.00 L229.00,261.00 L229.50,261.00 L230.00,261.00 L230.50,261.00 L231.00,261.00 L231.50,261.00 L232.00,261.00 L232.50,261.00 L233.00,261.00 L233.50,261.01 L234.00,261.01 L234.50,261.01 L235.00,261.01 L235.50,261.01 L236.00,261.01 L236.50,261.01 L237.00,261.01 L237.50,261.01 L238.00,261.01 L238.50,261.01 L239.00,261.01 L239.50,261.01 L240.00,261.01 L240.50,261.01 L241.00,261.01 L241.50,261.01 L242.00,261.01 L242.50,261.01 L243.00,261.01 L243.50,261.01 L244.00,261.01 L244.50,261.01 L245.00,261.01 L245.50,261.01 L246.00,261.01 L246.50,261.01 L247.00,261.01 L247.50,261.01 L248.00,261.01 L248.50,261.01 L249.00,261.01 L249.50,261.01 L250.00,261.01 L250.50,261.01 L251.00,261.01 L251.50,261.01 L252.00,261.01 L252.50,261.01 L253.00,261.01 L253.50,261.01 L254.00,261.01 L254.50,261.01 L255.00,261.01 L255.50,261.01 L256.00,261.02 L256.50,261.02 L257.00,261.02 L257.50,261.02 L258.00,261.02 L258.50,261.02 L259.00,261.02 L259.50,261.02 L260.00,261.02 L260.50,261.02 L261.00,261.02 L261.50,261.02 L262.00,261.02 L262.50,261.02 L263.00,261.02 L263.50,261.02 L264.00,261.02 L264.50,261.02 L265.00,261.02 L265.50,261.02 L266.00,261.01 L266.50,261.01 L267.00,261.01 L267.50,261.01 L268.00,261.01 L268.50,261.01 L269.00,261.01 L269.50,261.01 L270.00,261.01 L270.50,261.01 L271.00,261.01 L271.50,261.01 L272.00,261.01 L272.50,261.01 L273.00,261.01 L273.50,261.01 L274.00,261.01 L274.50,261.01 L275.00,261.01 L275.50,261.01 L276.00,261.01 L276.50,261.01 L277.00,261.01 L277.50,261.01 L278.00,261.01 L278.50,261.01 L279.00,261.01 L279.50,261.01 L280.00,261.01 L280.50,261.01 L281.00,261.01 L281.50,261.01 L282.00,261.01 L282.50,261.01 L283.00,261.01 L283.50,261.01 L284.00,261.01 L284.50,261.01 L285.00,261.01 L285.50,261.01 L286.00,261.01 L286.50,261.01 L287.00,261.01 L287.50,261.01 L288.00,261.01 L288.50,261.01 L289.00,261.01 L289.50,261.01 L290.00,261.01 L290.50,261.01 L291.00,261.01 L291.50,261.01 L292.00,261.01 L292.50,261.01 L293.00,261.01 L293.50,261.01 L294.00,261.01 L294.50,261.01 L295.00,261.01 L295.50,261.01 L296.00,261.01 L296.50,261.00 L297.00,261.00 L297.50,261.00 L298.00,261.00 L298.50,261.00 L299.00,261.00 L299.50,261.00 L300.00,261.00 L300.50,261.00 L301.00,261.00 L301.50,261.00 L302.00,261.00 L302.50,261.00 L303.00,261.00 L303.50,261.00 L304.00,261.00 L304.50,261.00 L305.00,261.00 L305.50,261.00 L306.00,261.00 L306.50,261.00 L307.00,261.00 L307.50,261.00 L308.00,261.00 L308.50,261.00 L309.00,261.00 L309.50,261.00 L310.00,261.00 L310.50,261.00 L311.00,261.00 L311.50,261.00 L312.00,261.00 L312.50,261.00 L313.00,261.00 L313.50,261.00 L314.00,261.00 L314.50,261.00 L315.00,261.00 L315.50,261.00 L316.00,261.00 L316.50,261.00 L317.00,261.00 L317.50,261.00 L318.00,261.00 L318.50,260.99 L319.00,260.99 L319.50,260.99 L320.00,260.99 L320.50,260.99 L321.00,260.99 L321.50,260.99 L322.00,260.99 L322.50,260.99 L323.00,260.99 L323.50,260.99 L324.00,260.99 L324.50,260.99 L325.00,260.99 L325.50,260.99 L326.00,260.99 L326.50,260.99 L327.00,260.99 L327.50,260.99 L328.00,260.99 L328.50,260.99 L329.00,260.99 L329.50,260.99 L330.00,260.99 L330.50,260.99 L331.00,260.99 L331.50,260.99 L332.00,260.99 L332.50,260.99 L333.00,260.99 L333.50,260.99 L334.00,260.99 L334.50,260.99 L335.00,260.99 L335.50,260.99 L336.00,260.99 L336.50,260.99 L337.00,260.99 L337.50,260.99 L338.00,260.99 L338.50,260.99 L339.00,260.99 L339.50,260.99 L340.00,260.99 L340.50,260.99 L341.00,260.99 L341.50,260.99 L342.00,260.99 L342.50,260.99 L343.00,260.99 L343.50,260.99 L344.00,260.99 L344.50,260.99 L345.00,260.99 L345.50,260.99 L346.00,260.99 L346.50,260.99 L347.00,260.99 L347.50,260.99 L348.00,260.99 L348.50,260.99 L349.00,260.99 L349.50,260.99 L350.00,260.99 L350.50,260.99 L351.00,260.99 L351.50,260.99 L352.00,260.99 L352.50,260.99 L353.00,260.99 L353.50,260.99 L354.00,260.99 L354.50,260.99 L355.00,260.99 L355.50,260.99 L356.00,260.99 L356.50,260.99 L357.00,260.99 L357.50,260.99 L358.00,260.99 L358.50,260.99 L359.00,260.99 L359.50,260.99 L360.00,260.99 L360.50,260.99 L361.00,260.99 L361.50,260.99 L362.00,260.99 L362.50,260.99 L363.00,260.99 L363.50,260.99 L364.00,260.99 L364.50,260.99 L365.00,260.99 L365.50,260.99 L366.00,261.00 L366.50,261.00 L367.00,261.00 L367.50,261.00 L368.00,261.00 L368.50,261.00 L369.00,261.00 L369.50,261.00 L370.00,261.00 L370.50,261.00 L371.00,261.00 L371.50,261.00 L372.00,261.00 L372.50,261.00 L373.00,261.00 L373.50,261.00 L374.00,261.00 L374.50,261.00 L375.00,261.00 L375.50,261.00 L376.00,261.00 L376.50,261.00 L377.00,261.00 L377.50,261.00 L378.00,261.01 L378.50,261.01 L379.00,261.01 L379.50,261.01 L380.00,261.01 L380.50,261.01 L381.00,261.01 L381.50,261.01 L382.00,261.01 L382.50,261.01 L383.00,261.01 L383.50,261.01 L384.00,261.01 L384.50,261.01" stroke="#7878ff"/>
</g>
<g stroke="#2b2b2b" stroke-width="1.5"><line x1="31.90" y1="265.2" x2="31.90" y2="270.8"/><line x1="80.51" y1="265.2" x2="80.51" y2="270.8"/><line x1="129.13" y1="265.2" x2="129.13" y2="270.8"/><line x1="177.74" y1="265.2" x2="177.74" y2="270.8"/><line x1="226.36" y1="265.2" x2="226.36" y2="270.8"/><line x1="274.97" y1="265.2" x2="274.97" y2="270.8"/><line x1="323.58" y1="265.2" x2="323.58" y2="270.8"/><line x1="372.20" y1="265.2" x2="372.20" y2="270.8"/><line x1="26.9" y1="261.10" x2="31.9" y2="261.10"/><line x1="26.9" y1="221.49" x2="31.9" y2="221.49"/><line x1="26.9" y1="181.88" x2="31.9" y2="181.88"/><line x1="26.9" y1="142.27" x2="31.9" y2="142.27"/><line x1="26.9" y1="102.66" x2="31.9" y2="102.66"/><line x1="26.9" y1="63.05" x2="31.9" y2="63.05"/><line x1="26.9" y1="23.44" x2="31.9" y2="23.44"/></g>
<rect x="31.9" y="3.75" width="352.90" height="261.45" fill="none" stroke="#2b2b2b" stroke-width="1.6"/>
<g font-size="10.8" fill="#111" stroke="#111" stroke-width="0.15"><text transform="translate(31.90,282.6) scale(0.97,1)" text-anchor="middle">200</text><text transform="translate(80.51,282.6) scale(0.97,1)" text-anchor="middle">400</text><text transform="translate(129.13,282.6) scale(0.97,1)" text-anchor="middle">600</text><text transform="translate(177.74,282.6) scale(0.97,1)" text-anchor="middle">800</text><text transform="translate(226.36,282.6) scale(0.97,1)" text-anchor="middle">1000</text><text transform="translate(274.97,282.6) scale(0.97,1)" text-anchor="middle">1200</text><text transform="translate(323.58,282.6) scale(0.97,1)" text-anchor="middle">1400</text><text transform="translate(372.20,282.6) scale(0.97,1)" text-anchor="middle">1600</text><text transform="translate(22.9,265.00) scale(0.97,1)" text-anchor="end">0</text><text transform="translate(22.9,225.39) scale(0.97,1)" text-anchor="end">1</text><text transform="translate(22.9,185.78) scale(0.97,1)" text-anchor="end">2</text><text transform="translate(22.9,146.17) scale(0.97,1)" text-anchor="end">3</text><text transform="translate(22.9,106.56) scale(0.97,1)" text-anchor="end">4</text><text transform="translate(22.9,66.95) scale(0.97,1)" text-anchor="end">5</text><text transform="translate(22.9,27.34) scale(0.97,1)" text-anchor="end">6</text></g>
<!-- legend -->
<rect x="280.5" y="27.5" width="80.5" height="65.8" fill="#fff" stroke="#888" stroke-width="1.1"/>
<g stroke-width="1">
<line x1="282.2" y1="36.5" x2="310.8" y2="36.5" stroke="#727272"/>
<line x1="282.2" y1="52.4" x2="310.8" y2="52.4" stroke="#ff7474"/>
<line x1="282.2" y1="68.3" x2="310.8" y2="68.3" stroke="#5ef05e"/>
<line x1="282.2" y1="84.2" x2="310.8" y2="84.2" stroke="#7878ff"/>
</g>
<g font-size="12.7" fill="#000" stroke="#000" stroke-width="0.15">
<text transform="translate(315.1,41.1) scale(1.02,1)">PATP1</text>
<text transform="translate(315.1,57.1) scale(1.02,1)">PATP2</text>
<text transform="translate(315.1,73.1) scale(1.02,1)">DMAB1</text>
<text transform="translate(315.1,88.8) scale(1.02,1)">DMAB2</text>
</g>
<!-- annotations -->
<g font-size="13.6">
<text transform="translate(82.2,24.3) scale(0.982,1)" fill="#0000ff" stroke="#0000ff" stroke-width="0.18">445</text>
<text transform="translate(128.1,108.4) scale(0.982,1)" fill="#00ff00" stroke="#00ff00" stroke-width="0.18">462</text>
<text transform="translate(157.2,184.6) scale(0.982,1)" fill="#000" stroke="#000" stroke-width="0.18">558</text>
<text transform="translate(262.6,172.3) scale(0.982,1)" fill="#00ff00" stroke="#00ff00" stroke-width="0.18">1128</text>
<text transform="translate(234.7,212.3) scale(0.982,1)" fill="#ff0000" stroke="#ff0000" stroke-width="0.18">1048</text>
</g>
<line x1="128.1" y1="109.6" x2="100.38" y2="132.99" stroke="#11dd11" stroke-width="1.0"/><polygon points="96.1,136.6 100.03,130.40 102.87,133.77" fill="#11dd11"/><line x1="163.6" y1="191.9" x2="124.98" y2="214.75" stroke="#222" stroke-width="1.0"/><polygon points="120.5,217.4 125.13,212.45 127.06,215.73" fill="#222"/><line x1="272.3" y1="176.6" x2="263.00" y2="181.48" stroke="#11dd11" stroke-width="1.0"/><polygon points="258.4,183.9 263.27,179.20 265.04,182.56" fill="#11dd11"/><line x1="245" y1="217.3" x2="241.90" y2="221.08" stroke="#ff1111" stroke-width="1.0"/><polygon points="238.6,225.1 241.25,218.87 244.19,221.28" fill="#ff1111"/>
<!-- axis titles -->
<text x="137.3" y="293.1" font-size="14" font-weight="bold" fill="#000" stroke="#fff" stroke-width="0.15" textLength="101" lengthAdjust="spacingAndGlyphs">Wavelength (nm)</text>
<g transform="translate(15.9,180.8) rotate(-90) scale(1.05,1)">
<text x="0" y="0" font-size="12.4" fill="#000" stroke="#000" stroke-width="0.15"><tspan font-size="9.5" dy="-1.6">ε</tspan><tspan dy="1.6"> (L mol</tspan><tspan font-size="8.2" dy="-6">-1</tspan><tspan dy="6"> cm</tspan><tspan font-size="8.2" dy="-6">-1</tspan><tspan dy="6">) x 10</tspan><tspan font-size="8.2" dy="-6">4</tspan></text>
</g>
</svg>
</body></html>
